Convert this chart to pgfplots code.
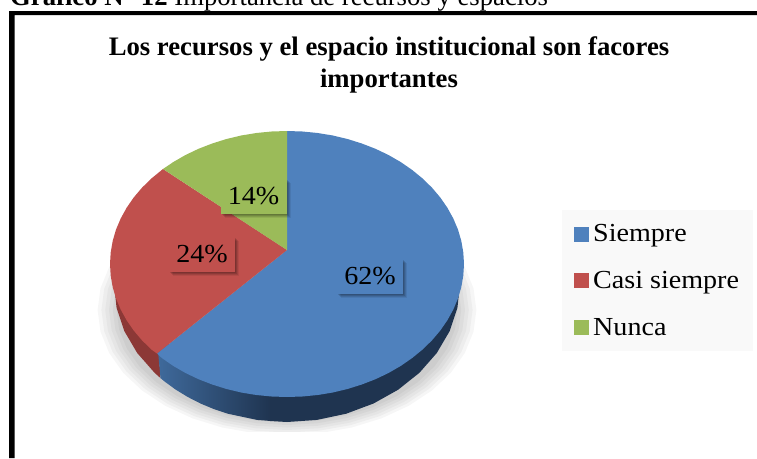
\documentclass[border=0pt]{standalone}
\usepackage{fontspec}
\setmainfont{Liberation Serif}
\newfontfamily\cam[FakeStretch=1.08]{Liberation Serif}
\usepackage{pgfplots}
\usepackage{pgfplotstable}
\pgfplotsset{compat=1.18}
\usetikzlibrary{shadows}

\definecolor{sblue}{HTML}{4F81BD}
\definecolor{sred}{HTML}{C0504D}
\definecolor{sgreen}{HTML}{9BBB59}
\definecolor{wallred}{HTML}{8C3836}
\definecolor{wallblueA}{HTML}{3F6A9C}
\definecolor{wallblueB}{HTML}{1F3450}

% outline of the top of the pie, in picture pixels, used for the soft shadow
\pgfplotstableread{
x y
287 131
317.7 133
347.5 139
375.5 148.8
400.8 162.1
422.6 178.5
440.3 197.5
453.3 218.5
461.3 240.9
464 264
461.3 287.1
453.3 309.5
440.3 330.5
422.6 349.5
400.8 365.9
375.5 379.2
347.5 389
317.7 395
287 397
256.3 395
226.5 389
198.5 379.2
173.2 365.9
151.4 349.5
133.7 330.5
120.7 309.5
112.7 287.1
110 264
112.7 240.9
120.7 218.5
133.7 197.5
151.4 178.5
173.2 162.1
198.5 148.8
226.5 139
256.3 133
}\rimtable

\tikzset{lab/.style={inner sep=0pt,minimum width=66pt,minimum height=35pt,
  font=\cam\fontsize{26}{26}\selectfont,text=black,
  general shadow={shadow xshift=4pt,shadow yshift=-4pt,opacity=.07,fill=black},
  general shadow={shadow xshift=3pt,shadow yshift=-3pt,opacity=.10,fill=black},
  general shadow={shadow xshift=2pt,shadow yshift=-2pt,opacity=.12,fill=black},
  general shadow={shadow xshift=1pt,shadow yshift=-1pt,opacity=.12,fill=black}}}

\begin{document}
\begin{tikzpicture}
\path[use as bounding box,clip] (0,0) rectangle (757pt,458pt);
\begin{axis}[
  at={(0,0)},anchor=south west,
  scale only axis,width=757pt,height=458pt,
  xmin=0,xmax=757,ymin=0,ymax=458,y dir=reverse,
  hide axis,clip=false,
  legend style={at={(axis cs:562,210)},anchor=north west,fill=black!2.5,draw=none,
    inner xsep=12pt,inner ysep=12.5pt,row sep=24pt,
    font=\cam\fontsize{26}{26}\selectfont,
    /tikz/every odd column/.append style={column sep=2pt}},
  legend cell align=left,
  legend image code/.code={\fill[#1] (0pt,-7.5pt) rectangle (15pt,7.5pt);},
]
% soft shadow under the pie
\pgfplotsinvokeforeach{0.90,0.92,0.94,0.96,0.98,1.00}{
  \addplot[forget plot,draw=none,fill=black,fill opacity=.035]
    table[x expr={287+(\thisrow{x}-287)*1.07*#1},y expr={310+(\thisrow{y}-264)*.94*#1}] {\rimtable};
}
\addplot[forget plot,draw=none,fill=white] coordinates {(80,432)(490,432)(490,458)(80,458)};

% side wall
\addplot[forget plot,draw=none,fill=wallred] coordinates {
  (158,340)(160.5,378.1)(154.5,372.7)(137.2,353)(124.4,331.2)(116.6,308)(114,284)(130,284)};
\addplot[forget plot,draw=none,left color=wallblueA,right color=wallblueB] coordinates {
  (157,340)(160.5,378.1)(164.7,381.6)(175.8,389.7)(187.8,397)(200.5,403.5)(213.9,409.1)
  (227.8,413.7)(257,419.9)(271,421)(271,380)};
\addplot[forget plot,draw=none,fill=wallblueB] coordinates {
  (270,380)(270,421)(287,422)(317,419.9)(346.2,413.7)(373.5,403.5)(398.2,389.7)(419.5,372.7)
  (436.8,353)(449.6,331.2)(457.4,308)(460,284)(400,300)};

% slices 62, 24, 14
\addplot[draw=none,fill=sblue] coordinates {
  (287,250)(287,131)(302.4,131.5)(317.7,133)(332.8,135.5)(347.5,139)(361.8,143.5)(375.5,148.8)
  (388.5,155)(400.8,162.1)(412.2,170)(422.6,178.5)(432,187.7)(440.3,197.5)(447.4,207.8)
  (453.3,218.5)(458,229.6)(461.3,240.9)(463.3,252.4)(464,264)(463.3,275.6)(461.3,287.1)
  (458,298.4)(453.3,309.5)(447.4,320.2)(440.3,330.5)(432,340.3)(422.6,349.5)(412.2,358)
  (400.8,365.9)(388.5,373)(375.5,379.2)(361.8,384.5)(347.5,389)(332.8,392.5)(317.7,395)
  (302.4,396.5)(287,397)(271.6,396.5)(256.3,395)(241.2,392.5)(226.5,389)(212.2,384.5)
  (198.5,379.2)(185.5,373)(173.2,365.9)(161.8,358)(157,353.5)};
\addlegendentry{Siempre}
\addplot[draw=none,fill=sred] coordinates {
  (287,250)(157,353.5)(151.4,349.5)(142,340.3)(133.7,330.5)(126.6,320.2)(120.7,309.5)(116,298.4)
  (112.7,287.1)(110.7,275.6)(110,264)(110.7,252.4)(112.7,240.9)(116,229.6)(120.7,218.5)
  (126.6,207.8)(133.7,197.5)(142,187.7)(151.4,178.5)(163,169)};
\addlegendentry{Casi siempre}
\addplot[draw=none,fill=sgreen] coordinates {
  (287,250)(163,169)(173.2,162.1)(185.5,155)(198.5,148.8)(212.2,143.5)(226.5,139)(241.2,135.5)
  (256.3,133)(271.6,131.5)(287,131)};
\addlegendentry{Nunca}

\node[lab,fill=sblue] at (axis cs:370,276) {62\%};
\node[lab,fill=sred] at (axis cs:202,254) {24\%};
\node[lab,fill=sgreen] at (axis cs:253.5,196) {14\%};

% frame and texts of the page
\addplot[forget plot,draw=none,fill=black] coordinates {(9,458)(9,11)(757,11)(757,15)(14.5,15)(14.5,458)};
\node[anchor=base west,font=\fontsize{26.7}{26.7}\selectfont,inner sep=0pt] at (axis cs:10,5.5)
  {\textbf{Gráfico N° 12} Importancia de recursos y espacios};
\node[anchor=base,font=\bfseries\fontsize{26.7}{26.7}\selectfont,inner sep=0pt] at (axis cs:389,55)
  {Los recursos y el espacio institucional son facores};
\node[anchor=base,font=\bfseries\fontsize{26.7}{26.7}\selectfont,inner sep=0pt] at (axis cs:389,87)
  {importantes};
\end{axis}
\end{tikzpicture}
\end{document}
